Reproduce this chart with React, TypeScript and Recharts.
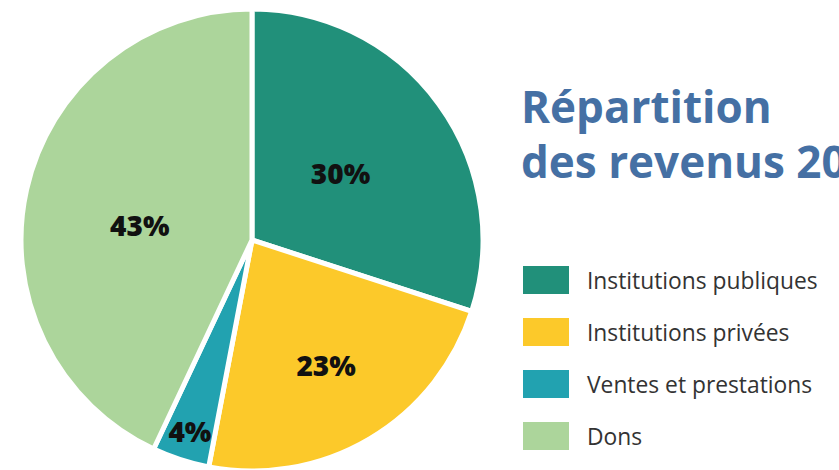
import React from 'react';
import { PieChart, Pie, Cell } from 'recharts';

const categories = ['Institutions publiques', 'Institutions privées', 'Ventes et prestations', 'Dons'];
const shares = [30, 23, 4, 43];
const colors = ['#21907a', '#fcc92a', '#22a2b0', '#acd59b'];

const data = categories.map((name, i) => ({ name, value: shares[i] }));

// label placement: distance from the centre (fraction of radius) and angle nudge
const labelR = [0.48, 0.63, 0.87, 0.49];
const labelDA = [1, 0, 0, 5];
const RAD = Math.PI / 180;

const renderLabel = (props: any) => {
  const { cx, cy, midAngle, outerRadius, index, value } = props;
  const r = outerRadius * labelR[index];
  const a = midAngle + labelDA[index];
  const x = cx + r * Math.cos(-a * RAD);
  const y = cy + r * Math.sin(-a * RAD);
  return (
    <text
      x={x}
      y={y}
      fill="#111"
      textAnchor="middle"
      dominantBaseline="central"
      style={{ fontFamily: '"Open Sans", sans-serif', fontWeight: 800, fontSize: 28 }}
    >
      {value}%
    </text>
  );
};

export default function App() {
  return (
    <div style={{ position: 'absolute', left: 0, top: 0, width: 839, height: 470, overflow: 'hidden', background: '#fff' }}>
      <div
        style={{
          position: 'absolute',
          left: 521,
          top: 79,
          fontFamily: '"Open Sans", sans-serif',
          fontWeight: 700,
          fontSize: 44,
          lineHeight: '55px',
          color: '#4570a4',
          whiteSpace: 'nowrap',
        }}
      >
        Répartition
        <br />
        des revenus 20
      </div>
      <PieChart
        width={839}
        height={470}
        margin={{ top: 0, right: 0, bottom: 0, left: 0 }}
        style={{ position: 'absolute', left: 0, top: 0 }}
      >
        <Pie
          data={data}
          dataKey="value"
          nameKey="name"
          cx={252}
          cy={240}
          outerRadius={231}
          startAngle={90}
          endAngle={-270}
          stroke="#fff"
          strokeWidth={5}
          label={renderLabel}
          labelLine={false}
          isAnimationActive={false}
        >
          {data.map((d, i) => (
            <Cell key={d.name} fill={colors[i]} />
          ))}
        </Pie>
      </PieChart>
      <div style={{ position: 'absolute', left: 523, top: 254, fontFamily: '"Open Sans", sans-serif' }}>
        {data.map((d, i) => (
          <div key={d.name} style={{ display: 'flex', alignItems: 'center', height: 52 }}>
            <div style={{ width: 46, height: 28, background: colors[i], marginRight: 18 }} />
            <span style={{ fontSize: 22.8, color: '#333', whiteSpace: 'nowrap' }}>{d.name}</span>
          </div>
        ))}
      </div>
    </div>
  );
}
